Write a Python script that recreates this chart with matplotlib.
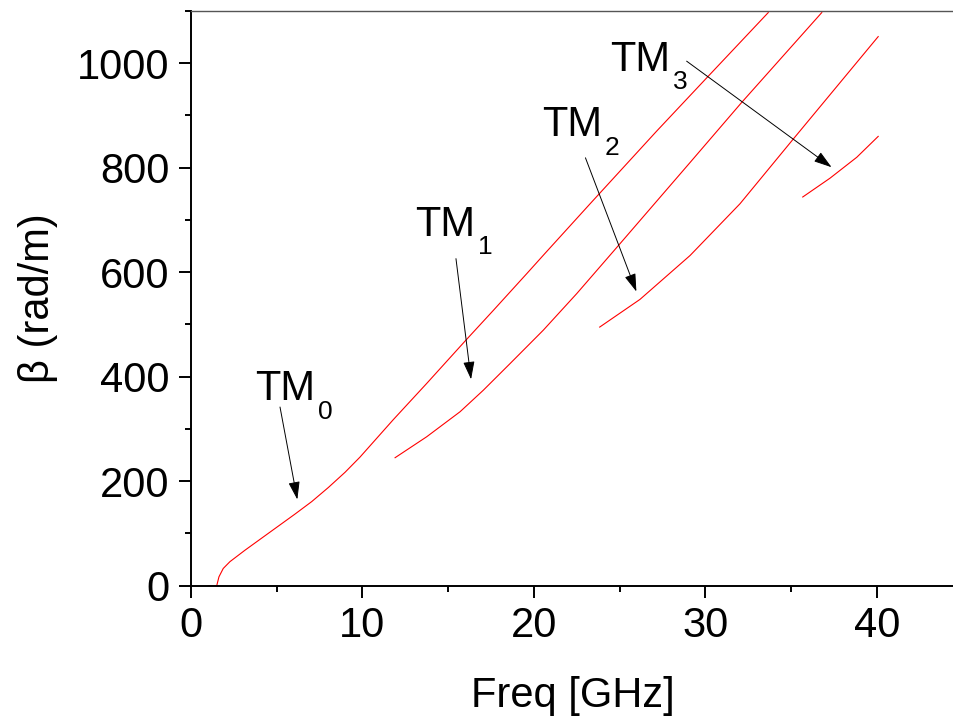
import matplotlib
matplotlib.use("Agg")
import matplotlib.pyplot as plt
from matplotlib.ticker import MultipleLocator

plt.rcParams["font.family"] = ["Liberation Sans", "DejaVu Sans"]

# dispersion curves, beta (rad/m) vs frequency (GHz)
tm0_f = [1.0, 1.5, 1.63, 1.88, 2.27, 3.15, 4.12, 5.09, 6.06, 7.04, 8.01, 8.98, 9.85,
         11.80, 13.74, 16.03, 17.63, 19.57, 20.64, 23.27, 27.15, 30.07, 33.66]
tm0_b = [0, 0, 17, 33, 46, 68, 91, 114, 137, 161, 188, 217, 246,
         318, 387, 470, 527, 597, 636, 731, 870, 972, 1097]

tm1_f = [11.90, 13.74, 15.69, 17.04, 18.60, 20.54, 22.49, 24.92, 29.10, 32.11, 36.78]
tm1_b = [245, 285, 333, 374, 425, 489, 559, 651, 810, 925, 1097]

tm2_f = [23.83, 26.18, 29.10, 32.01, 35.12, 40.07]
tm2_b = [495, 548, 632, 731, 855, 1051]

tm3_f = [35.67, 37.26, 38.82, 40.07]
tm3_b = [744, 780, 820, 860]

# mode labels: name, subscript, baseline position, arrow tail, arrow head
names = ["TM", "TM", "TM", "TM"]
subs = ["0", "1", "2", "3"]
label_xy = [(3.74, 355), (13.06, 670), (20.45, 860), (24.43, 986)]
tails = [(5.19, 342), (15.45, 626), (23.0, 819), (28.9, 1004)]
heads = [(6.2, 165), (16.33, 395), (25.97, 563), (37.35, 801)]

fig = plt.figure(figsize=(9.54, 7.2), dpi=100)
ax = fig.add_axes([191 / 954, 134.3 / 720, 1 - 191 / 954, 574.7 / 720])

for f, b in [(tm0_f, tm0_b), (tm1_f, tm1_b), (tm2_f, tm2_b), (tm3_f, tm3_b)]:
    ax.plot(f, b, color="red", lw=0.8)

for name, sub, pos, t, h in zip(names, subs, label_xy, tails, heads):
    ax.text(pos[0], pos[1], name, fontsize=30, va="baseline", ha="left")
    ax.annotate(sub, xy=pos, xytext=(45.5, -13.5), textcoords="offset points",
                fontsize=19, va="baseline", ha="left")
    ax.annotate("", xy=h, xytext=t,
                arrowprops=dict(arrowstyle="-|>,head_length=1.1,head_width=0.35",
                                color="black", lw=0.7, shrinkA=0, shrinkB=0))

ax.set_xlim(0, 44.49)
ax.set_ylim(0, 1100)
ax.xaxis.set_major_locator(MultipleLocator(10))
ax.xaxis.set_minor_locator(MultipleLocator(5))
ax.yaxis.set_major_locator(MultipleLocator(200))
ax.yaxis.set_minor_locator(MultipleLocator(100))
ax.tick_params(which="major", direction="out", length=8.5, width=1.4, labelsize=30, pad=6)
ax.tick_params(which="minor", direction="out", length=4.3, width=1.4)
ax.tick_params(axis="y", which="major", pad=7)

ax.spines["right"].set_visible(False)
ax.spines["left"].set_linewidth(1.4)
ax.spines["bottom"].set_linewidth(1.4)
ax.spines["top"].set_linewidth(1.0)
ax.spines["top"].set_color("#555555")

ax.set_xlabel("Freq [GHz]", fontsize=30, labelpad=22)
ax.set_ylabel("β (rad/m)", fontsize=30, labelpad=14)

fig.savefig("out.png", dpi=100)
